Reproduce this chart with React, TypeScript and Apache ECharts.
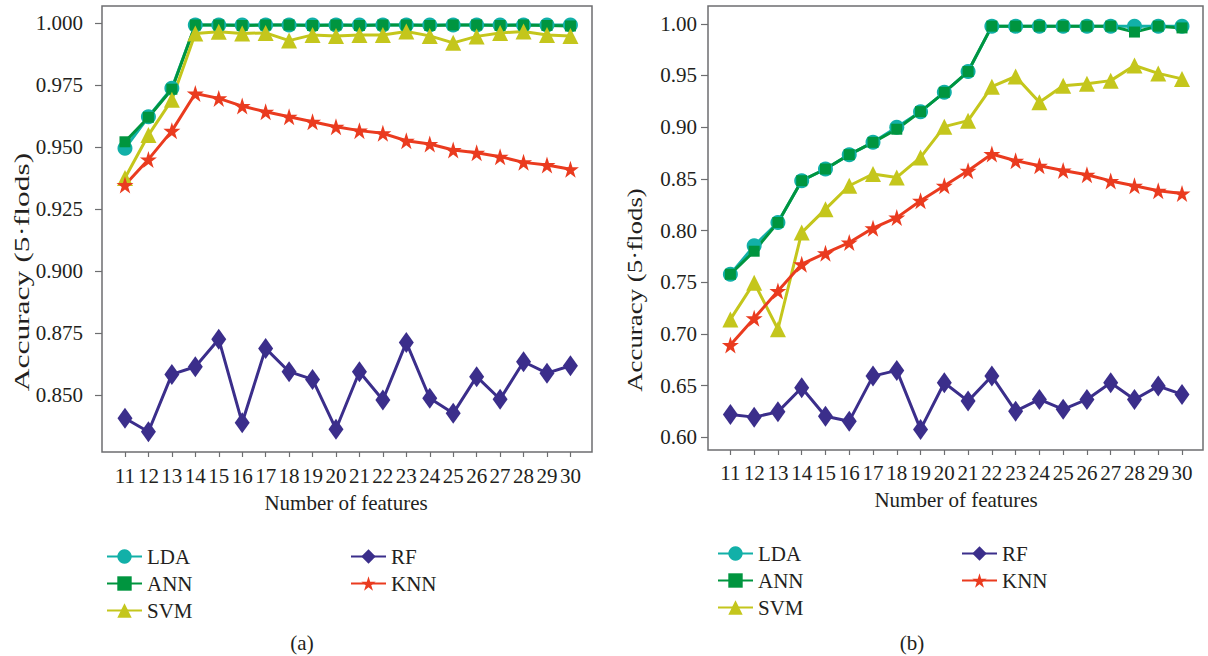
import React, { useEffect, useRef } from "react";
import * as echarts from "echarts";

const features = [11, 12, 13, 14, 15, 16, 17, 18, 19, 20, 21, 22, 23, 24, 25, 26, 27, 28, 29, 30];

// Panel (a)
const ldaA = [0.9495, 0.9622, 0.9737, 0.9992, 0.9992, 0.9992, 0.9992, 0.9992, 0.9992, 0.9992, 0.9992, 0.9992, 0.9992, 0.9992, 0.9992, 0.9992, 0.9992, 0.9992, 0.9992, 0.9992];
const annA = [0.9521, 0.962, 0.9733, 0.9992, 0.9992, 0.999, 0.9992, 0.9992, 0.999, 0.9992, 0.999, 0.9992, 0.9992, 0.999, 0.9992, 0.9992, 0.999, 0.9992, 0.999, 0.9988];
const svmA = [0.9375, 0.9548, 0.969, 0.9958, 0.9965, 0.9958, 0.996, 0.9929, 0.9952, 0.9948, 0.9952, 0.9952, 0.9966, 0.9948, 0.992, 0.9946, 0.996, 0.9966, 0.9952, 0.9948];
const knnA = [0.9347, 0.945, 0.9565, 0.9716, 0.9696, 0.9665, 0.9642, 0.9622, 0.9602, 0.9582, 0.9566, 0.9555, 0.9525, 0.9512, 0.9488, 0.9477, 0.9461, 0.9438, 0.9427, 0.941];
const rfA = [0.8406, 0.8352, 0.8583, 0.8614, 0.8725, 0.8388, 0.8688, 0.8594, 0.8563, 0.8362, 0.8594, 0.848, 0.8712, 0.8487, 0.8426, 0.8574, 0.8483, 0.8634, 0.8588, 0.8618];

// Panel (b)
const ldaB = [0.7577, 0.7852, 0.8078, 0.8482, 0.8595, 0.8734, 0.8853, 0.9, 0.915, 0.9337, 0.9538, 0.9977, 0.9977, 0.9977, 0.9977, 0.9977, 0.9977, 0.9977, 0.9977, 0.9977];
const annB = [0.7577, 0.78, 0.8078, 0.8482, 0.8595, 0.8734, 0.8853, 0.898, 0.915, 0.9337, 0.9538, 0.9977, 0.9977, 0.9977, 0.9977, 0.9977, 0.9977, 0.992, 0.9977, 0.996];
const svmB = [0.714, 0.7496, 0.7045, 0.798, 0.8207, 0.8433, 0.8547, 0.8514, 0.8707, 0.9005, 0.9063, 0.9392, 0.949, 0.924, 0.94, 0.9419, 0.945, 0.9596, 0.952, 0.9467];
const knnB = [0.6893, 0.7151, 0.7416, 0.7674, 0.7781, 0.7884, 0.8023, 0.8125, 0.8288, 0.8433, 0.8579, 0.874, 0.8675, 0.8627, 0.858, 0.854, 0.848, 0.8433, 0.8385, 0.8358];
const rfB = [0.622, 0.6195, 0.6246, 0.6479, 0.6204, 0.6156, 0.6592, 0.6647, 0.6076, 0.6527, 0.635, 0.6592, 0.6253, 0.6366, 0.627, 0.6366, 0.6527, 0.6366, 0.6495, 0.6415];

const yTicksA = [0.85, 0.875, 0.9, 0.925, 0.95, 0.975, 1.0];
const yTicksB = [0.6, 0.65, 0.7, 0.75, 0.8, 0.85, 0.9, 0.95, 1.0];

const xTitle = "Number of features";
const yTitle = "Accuracy (5·flods)";

const FONT = "'Liberation Serif', 'DejaVu Serif', serif";
const FS = 21;
const TEXT = "#231f20";
const FRAME = "#6d6e70";

const COLORS: Record<string, string> = {
  LDA: "#12b0a8",
  ANN: "#00953f",
  SVM: "#c4c61c",
  RF: "#3b2e8b",
  KNN: "#ea3b1f",
};

const STAR = "path://M50,0 L61.2,34.5 L97.6,34.5 L68.2,55.9 L79.4,90.5 L50,69.1 L20.6,90.5 L31.8,55.9 L2.4,34.5 L38.8,34.5 Z";

const SYMBOLS: Record<string, any> = {
  LDA: { symbol: "circle", size: 15 },
  ANN: { symbol: "rect", size: 11 },
  SVM: { symbol: "triangle", size: 16 },
  KNN: { symbol: STAR, size: 17 },
  RF: { symbol: "diamond", size: [15, 21] },
};

function pairs(vals: number[]) {
  return features.map((f, i) => [f, vals[i]]);
}

function makeSeries(name: string, vals: number[], idx: number) {
  const s = SYMBOLS[name];
  return {
    name,
    type: "line",
    xAxisIndex: idx,
    yAxisIndex: idx,
    data: pairs(vals),
    symbol: s.symbol,
    symbolSize: s.size,
    showSymbol: true,
    lineStyle: { color: COLORS[name], width: 3 },
    itemStyle: { color: COLORS[name] },
    emphasis: { disabled: true },
  };
}

function xAxis(idx: number, min: number, max: number, margin: number) {
  return {
    type: "value",
    gridIndex: idx,
    min,
    max,
    axisLine: { show: false },
    splitLine: { show: false },
    axisTick: { show: true, customValues: features, length: 5, lineStyle: { color: FRAME, width: 1.2 } },
    axisLabel: { customValues: features, margin, fontSize: FS, fontFamily: FONT, color: TEXT },
  };
}

function yAxis(idx: number, min: number, max: number, ticks: number[], digits: number, margin: number) {
  return {
    type: "value",
    gridIndex: idx,
    min,
    max,
    axisLine: { show: false },
    splitLine: { show: false },
    axisTick: { show: true, customValues: ticks, length: 7, lineStyle: { color: FRAME, width: 1.2 } },
    axisLabel: {
      customValues: ticks,
      margin,
      fontSize: FS,
      fontFamily: FONT,
      color: TEXT,
      formatter: (v: number) => v.toFixed(digits),
    },
  };
}

function legend(names: string[], left: number, top: number) {
  return {
    data: names,
    orient: "vertical",
    left,
    top,
    itemWidth: 35,
    itemHeight: 18,
    itemGap: 6,
    itemTextGap: 13,
    selectedMode: false,
    lineStyle: { width: 2 },
    textStyle: { fontSize: FS, lineHeight: 21, fontFamily: FONT, color: TEXT },
  };
}

function text(str: string, x: number, y: number, rotate = 0, stretch = 1) {
  return {
    type: "text",
    x,
    y,
    rotation: rotate,
    scaleX: stretch,
    style: {
      text: str,
      fontSize: FS,
      fontFamily: FONT,
      fill: TEXT,
      align: "center",
      verticalAlign: "middle",
    },
  };
}

export default function App() {
  const ref = useRef<HTMLDivElement>(null);
  useEffect(() => {
    if (!ref.current) return;
    const chart = echarts.init(ref.current, null, { renderer: "svg" });
    chart.setOption({
      animation: false,
      backgroundColor: "#ffffff",
      grid: [
        { left: 102, top: 6, width: 490, height: 446, show: true, borderColor: FRAME, borderWidth: 1.5 },
        { left: 708, top: 6, width: 495, height: 444, show: true, borderColor: FRAME, borderWidth: 1.5 },
      ],
      xAxis: [xAxis(0, 10.02, 30.92, 13), xAxis(1, 10.058, 30.883, 12)],
      yAxis: [
        yAxis(0, 0.82702, 1.00685, yTicksA, 3, 19),
        yAxis(1, 0.5877, 1.0172, yTicksB, 2, 11),
      ],
      legend: [
        legend(["LDA", "ANN", "SVM"], 101, 541),
        legend(["RF", "KNN"], 345, 541),
        legend(["LDA", "ANN", "SVM"], 712, 538),
        legend(["RF", "KNN"], 956, 538),
      ],
      graphic: [
        text(xTitle, 346, 503),
        text(xTitle, 956, 500),
        text(yTitle, 22, 272, Math.PI / 2, 1.5),
        text(yTitle, 635, 290, Math.PI / 2, 1.28),
        text("(a)", 302, 643),
        text("(b)", 912, 643),
      ],
      series: [
        makeSeries("LDA", ldaA, 0),
        makeSeries("ANN", annA, 0),
        makeSeries("SVM", svmA, 0),
        makeSeries("KNN", knnA, 0),
        makeSeries("RF", rfA, 0),
        makeSeries("LDA", ldaB, 1),
        makeSeries("ANN", annB, 1),
        makeSeries("SVM", svmB, 1),
        makeSeries("KNN", knnB, 1),
        makeSeries("RF", rfB, 1),
      ],
    });
    return () => chart.dispose();
  }, []);
  return (
    <div
      ref={ref}
      style={{ position: "fixed", left: 0, top: 0, width: 1208, height: 656 }}
    />
  );
}
